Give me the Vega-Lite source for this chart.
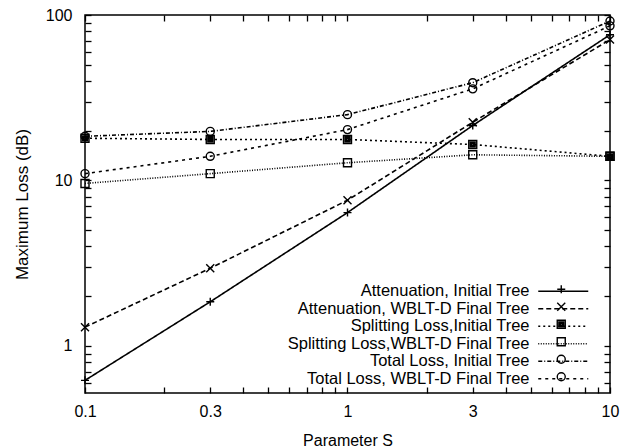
{
  "$schema": "https://vega.github.io/schema/vega-lite/v6.json",
  "width": 525,
  "height": 378,
  "autosize": {"type": "none"},
  "padding": {"left": 85, "top": 15, "right": 24, "bottom": 55},
  "background": "white",
  "config": {
    "font": "Liberation Sans",
    "view": {"stroke": "black", "strokeWidth": 1.5},
    "axis": {"grid": false, "domain": false, "tickColor": "black", "tickWidth": 1.3, "labelColor": "black", "titleColor": "black", "labelFont": "Liberation Sans", "titleFont": "Liberation Sans", "titleFontWeight": "normal"}
  },
  "data": {"values": [
    {"s": 0.1, "loss": 0.62, "series": "Attenuation, Initial Tree"},
    {"s": 0.3, "loss": 1.85, "series": "Attenuation, Initial Tree"},
    {"s": 1, "loss": 6.4, "series": "Attenuation, Initial Tree"},
    {"s": 3, "loss": 21.5, "series": "Attenuation, Initial Tree"},
    {"s": 10, "loss": 76, "series": "Attenuation, Initial Tree"},
    {"s": 0.1, "loss": 1.3, "series": "Attenuation, WBLT-D Final Tree"},
    {"s": 0.3, "loss": 2.95, "series": "Attenuation, WBLT-D Final Tree"},
    {"s": 1, "loss": 7.6, "series": "Attenuation, WBLT-D Final Tree"},
    {"s": 3, "loss": 22.5, "series": "Attenuation, WBLT-D Final Tree"},
    {"s": 10, "loss": 71, "series": "Attenuation, WBLT-D Final Tree"},
    {"s": 0.1, "loss": 18.0, "series": "Splitting Loss,Initial Tree"},
    {"s": 0.3, "loss": 17.7, "series": "Splitting Loss,Initial Tree"},
    {"s": 1, "loss": 17.7, "series": "Splitting Loss,Initial Tree"},
    {"s": 3, "loss": 16.5, "series": "Splitting Loss,Initial Tree"},
    {"s": 10, "loss": 14.0, "series": "Splitting Loss,Initial Tree"},
    {"s": 0.1, "loss": 9.6, "series": "Splitting Loss,WBLT-D Final Tree"},
    {"s": 0.3, "loss": 11.0, "series": "Splitting Loss,WBLT-D Final Tree"},
    {"s": 1, "loss": 12.8, "series": "Splitting Loss,WBLT-D Final Tree"},
    {"s": 3, "loss": 14.3, "series": "Splitting Loss,WBLT-D Final Tree"},
    {"s": 10, "loss": 14.0, "series": "Splitting Loss,WBLT-D Final Tree"},
    {"s": 0.1, "loss": 18.5, "series": "Total Loss, Initial Tree"},
    {"s": 0.3, "loss": 19.8, "series": "Total Loss, Initial Tree"},
    {"s": 1, "loss": 25, "series": "Total Loss, Initial Tree"},
    {"s": 3, "loss": 39, "series": "Total Loss, Initial Tree"},
    {"s": 10, "loss": 92, "series": "Total Loss, Initial Tree"},
    {"s": 0.1, "loss": 11.0, "series": "Total Loss, WBLT-D Final Tree"},
    {"s": 0.3, "loss": 14.0, "series": "Total Loss, WBLT-D Final Tree"},
    {"s": 1, "loss": 20.3, "series": "Total Loss, WBLT-D Final Tree"},
    {"s": 3, "loss": 35.8, "series": "Total Loss, WBLT-D Final Tree"},
    {"s": 10, "loss": 86, "series": "Total Loss, WBLT-D Final Tree"}
  ]},
  "resolve": {"axis": {"x": "independent", "y": "independent"}},
  "layer": [
    {
      "mark": {"type": "line", "color": "black", "strokeWidth": 1.6},
      "encoding": {
        "x": {"field": "s", "type": "quantitative",
          "scale": {"type": "log", "domain": [0.1, 10], "nice": false},
          "axis": {"orient": "bottom", "title": "Parameter S", "titleFontSize": 16, "titlePadding": 13,
            "values": [0.1, 0.2, 0.3, 0.4, 0.5, 0.6, 0.7, 0.8, 0.9, 1, 2, 3, 4, 5, 6, 7, 8, 9, 10],
            "labelExpr": "indexof([0.1, 0.3, 1, 3, 10], datum.value) >= 0 ? datum.value + '' : ''",
            "tickSize": -6, "labelPadding": 16, "labelFontSize": 16, "labelFlush": false, "labelOverlap": false}},
        "y": {"field": "loss", "type": "quantitative",
          "scale": {"type": "log", "domain": [0.52, 100], "nice": false},
          "axis": {"orient": "left", "title": "Maximum Loss (dB)", "titleFontSize": 17, "titlePadding": 14,
            "values": [0.6, 0.7, 0.8, 0.9, 1, 2, 3, 4, 5, 6, 7, 8, 9, 10, 20, 30, 40, 50, 60, 70, 80, 90, 100],
            "labelExpr": "indexof([1, 10, 100], datum.value) >= 0 ? datum.value + '' : ''",
            "tickSize": -6, "labelPadding": 19, "labelFontSize": 16, "labelFlush": false, "labelOverlap": false}},
        "strokeDash": {"field": "series", "type": "nominal",
          "scale": {"range": [[1, 0], [5, 3], [2, 3], [1, 1.5], [4, 2, 1, 2], [3, 4]]},
          "legend": {"orient": "none", "legendX": 470, "legendY": 268, "title": null, "padding": 0,
            "symbolType": "M-12.5,0H12.5", "symbolSize": 16, "symbolStrokeWidth": 1.5, "symbolStrokeColor": "black",
            "rowPadding": 0.5,
            "labelAlign": "right", "labelOffset": -42, "labelFontSize": 16.5, "labelColor": "black", "labelLimit": 400}}
      }
    },
    {
      "mark": {"type": "point", "filled": false, "color": "black", "strokeWidth": 1.4, "size": 64, "opacity": 1},
      "encoding": {
        "x": {"field": "s", "type": "quantitative", "axis": null},
        "y": {"field": "loss", "type": "quantitative", "axis": null},
        "shape": {"field": "series", "type": "nominal",
          "scale": {
            "domain": ["Attenuation, Initial Tree", "Attenuation, WBLT-D Final Tree", "Splitting Loss,Initial Tree", "Splitting Loss,WBLT-D Final Tree", "Total Loss, Initial Tree", "Total Loss, WBLT-D Final Tree"],
            "range": ["M-1,0H1M0,-1V1", "M-1,-1L1,1M-1,1L1,-1", "M-1,-1H1V1H-1ZM-0.6,-0.6H0.6V0.6H-0.6ZM-0.25,-0.25H0.25V0.25H-0.25Z", "square", "circle", "circle"]},
          "legend": {"orient": "none", "legendX": 468, "legendY": 266, "title": null, "padding": 0,
            "symbolSize": 64, "symbolStrokeWidth": 1.4, "symbolStrokeColor": "black", "symbolFillColor": "white",
            "rowPadding": 0.5,
            "labelOpacity": 0, "labelFontSize": 16.5, "labelLimit": 12}}
      }
    },
    {
      "mark": {"type": "point", "opacity": 0},
      "encoding": {
        "x": {"field": "s", "type": "quantitative",
          "axis": {"orient": "top", "title": null, "labels": false, "tickSize": -6,
            "values": [0.1, 0.2, 0.3, 0.4, 0.5, 0.6, 0.7, 0.8, 0.9, 1, 2, 3, 4, 5, 6, 7, 8, 9, 10]}},
        "y": {"field": "loss", "type": "quantitative",
          "axis": {"orient": "right", "title": null, "labels": false, "tickSize": -6,
            "values": [0.6, 0.7, 0.8, 0.9, 1, 2, 3, 4, 5, 6, 7, 8, 9, 10, 20, 30, 40, 50, 60, 70, 80, 90, 100]}}
      }
    }
  ]
}
